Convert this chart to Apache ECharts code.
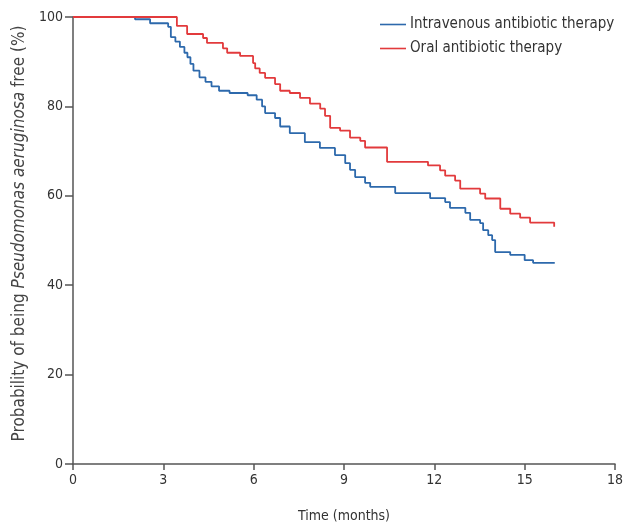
<!DOCTYPE html>
<html><head><meta charset="utf-8">
<script src="https://cdn.jsdelivr.net/npm/echarts@6/dist/echarts.min.js"></script>
<style>html,body{margin:0;padding:0;background:#fff}#c{width:623px;height:526px}</style>
</head><body><div id="c"></div>
<script>
var seriesNames = ['Intravenous antibiotic therapy', 'Oral antibiotic therapy'];
var ivTime = [0, 2.06, 2.56, 3.16, 3.25, 3.4, 3.55, 3.7, 3.8, 3.9, 4.0, 4.2, 4.4, 4.6, 4.85, 5.2, 5.8, 6.1, 6.28, 6.38, 6.71, 6.88, 7.2, 7.7, 8.2, 8.7, 9.04, 9.2, 9.37, 9.7, 9.87, 10.7, 11.86, 12.36, 12.52, 13.03, 13.19, 13.52, 13.62, 13.79, 13.92, 14.02, 14.52, 15.0, 15.28, 16.0];
var ivSurv = [100, 99.5, 98.6, 97.8, 95.5, 94.5, 93.3, 92, 91, 89.5, 88, 86.5, 85.5, 84.5, 83.5, 83, 82.5, 81.5, 80, 78.5, 77.4, 75.5, 74, 72, 70.7, 69.1, 67.3, 65.8, 64.2, 62.9, 62, 60.6, 59.5, 58.6, 57.3, 56.2, 54.6, 53.9, 52.3, 51.2, 50.1, 47.4, 46.8, 45.6, 45, 45];
var oralTime = [0, 3.45, 3.79, 4.32, 4.45, 4.98, 5.12, 5.55, 5.98, 6.05, 6.2, 6.38, 6.71, 6.88, 7.2, 7.54, 7.87, 8.21, 8.37, 8.54, 8.87, 9.2, 9.54, 9.7, 10.43, 11.79, 12.19, 12.36, 12.69, 12.86, 13.52, 13.69, 14.19, 14.52, 14.85, 15.18, 15.98, 16.0];
var oralSurv = [100, 98, 96.2, 95.3, 94.2, 93, 92, 91.3, 89.7, 88.5, 87.5, 86.4, 85, 83.5, 83, 81.9, 80.6, 79.5, 77.9, 75.2, 74.6, 73, 72.3, 70.8, 67.6, 66.8, 65.7, 64.5, 63.4, 61.6, 60.5, 59.4, 57.1, 56, 55.1, 54, 53.1, 53.1];
var xTicks = [0, 3, 6, 9, 12, 15, 18];
var yTicks = [0, 20, 40, 60, 80, 100];

function pairs(t, s) { return t.map(function (v, i) { return [v, s[i]]; }); }

var font = '"DejaVu Sans Condensed", "Liberation Sans Narrow", "Open Sans", sans-serif';
var chart = echarts.init(document.getElementById('c'));
chart.setOption({
  animation: false,
  textStyle: { fontFamily: font },
  grid: { left: 73, right: 8, top: 17, bottom: 62, containLabel: false, outerBoundsMode: 'none' },
  legend: {
    orient: 'vertical', left: 375, top: 12, itemWidth: 26, itemHeight: 10, itemGap: 9,
    icon: 'path://M0,4.2H26V5.8H0Z',
    textStyle: { fontFamily: font, fontSize: 15, color: '#333', padding: [0, 0, 0, -1] },
    data: seriesNames
  },
  xAxis: {
    type: 'value', min: xTicks[0], max: xTicks[xTicks.length - 1], interval: 3,
    name: 'Time (months)', nameLocation: 'middle', nameGap: 45,
    nameTextStyle: { fontFamily: font, fontSize: 14, color: '#333' },
    axisLine: { lineStyle: { color: '#555', width: 1.5 } },
    axisTick: { show: true, length: 6, lineStyle: { color: '#555', width: 1.5 } },
    axisLabel: { fontFamily: font, fontSize: 14, color: '#333', margin: 9 },
    splitLine: { show: false }
  },
  yAxis: {
    type: 'value', min: yTicks[0], max: yTicks[yTicks.length - 1], interval: 20,
    name: 'Probability of being {i|Pseudomonas aeruginosa} free (%)', nameLocation: 'middle', nameGap: 43,
    nameTextStyle: { fontFamily: font, fontSize: 17, color: '#444', padding: [0, 0, 0, 14],
      rich: { i: { fontFamily: font, fontSize: 17, fontStyle: 'italic', color: '#444' } } },
    axisLine: { show: true, lineStyle: { color: '#555', width: 1.5 } },
    axisTick: { show: true, length: 8, lineStyle: { color: '#555', width: 1.5 } },
    axisLabel: { fontFamily: font, fontSize: 14, color: '#333', margin: 10 },
    splitLine: { show: false }
  },
  series: [
    { name: seriesNames[0], type: 'line', step: 'end', showSymbol: false, symbol: 'none',
      data: pairs(ivTime, ivSurv), lineStyle: { color: '#2d69ac', width: 1.8 }, itemStyle: { color: '#2d69ac' } },
    { name: seriesNames[1], type: 'line', step: 'end', showSymbol: false, symbol: 'none',
      data: pairs(oralTime, oralSurv), lineStyle: { color: '#e23a3c', width: 1.8 }, itemStyle: { color: '#e23a3c' } }
  ]
});
</script></body></html>
